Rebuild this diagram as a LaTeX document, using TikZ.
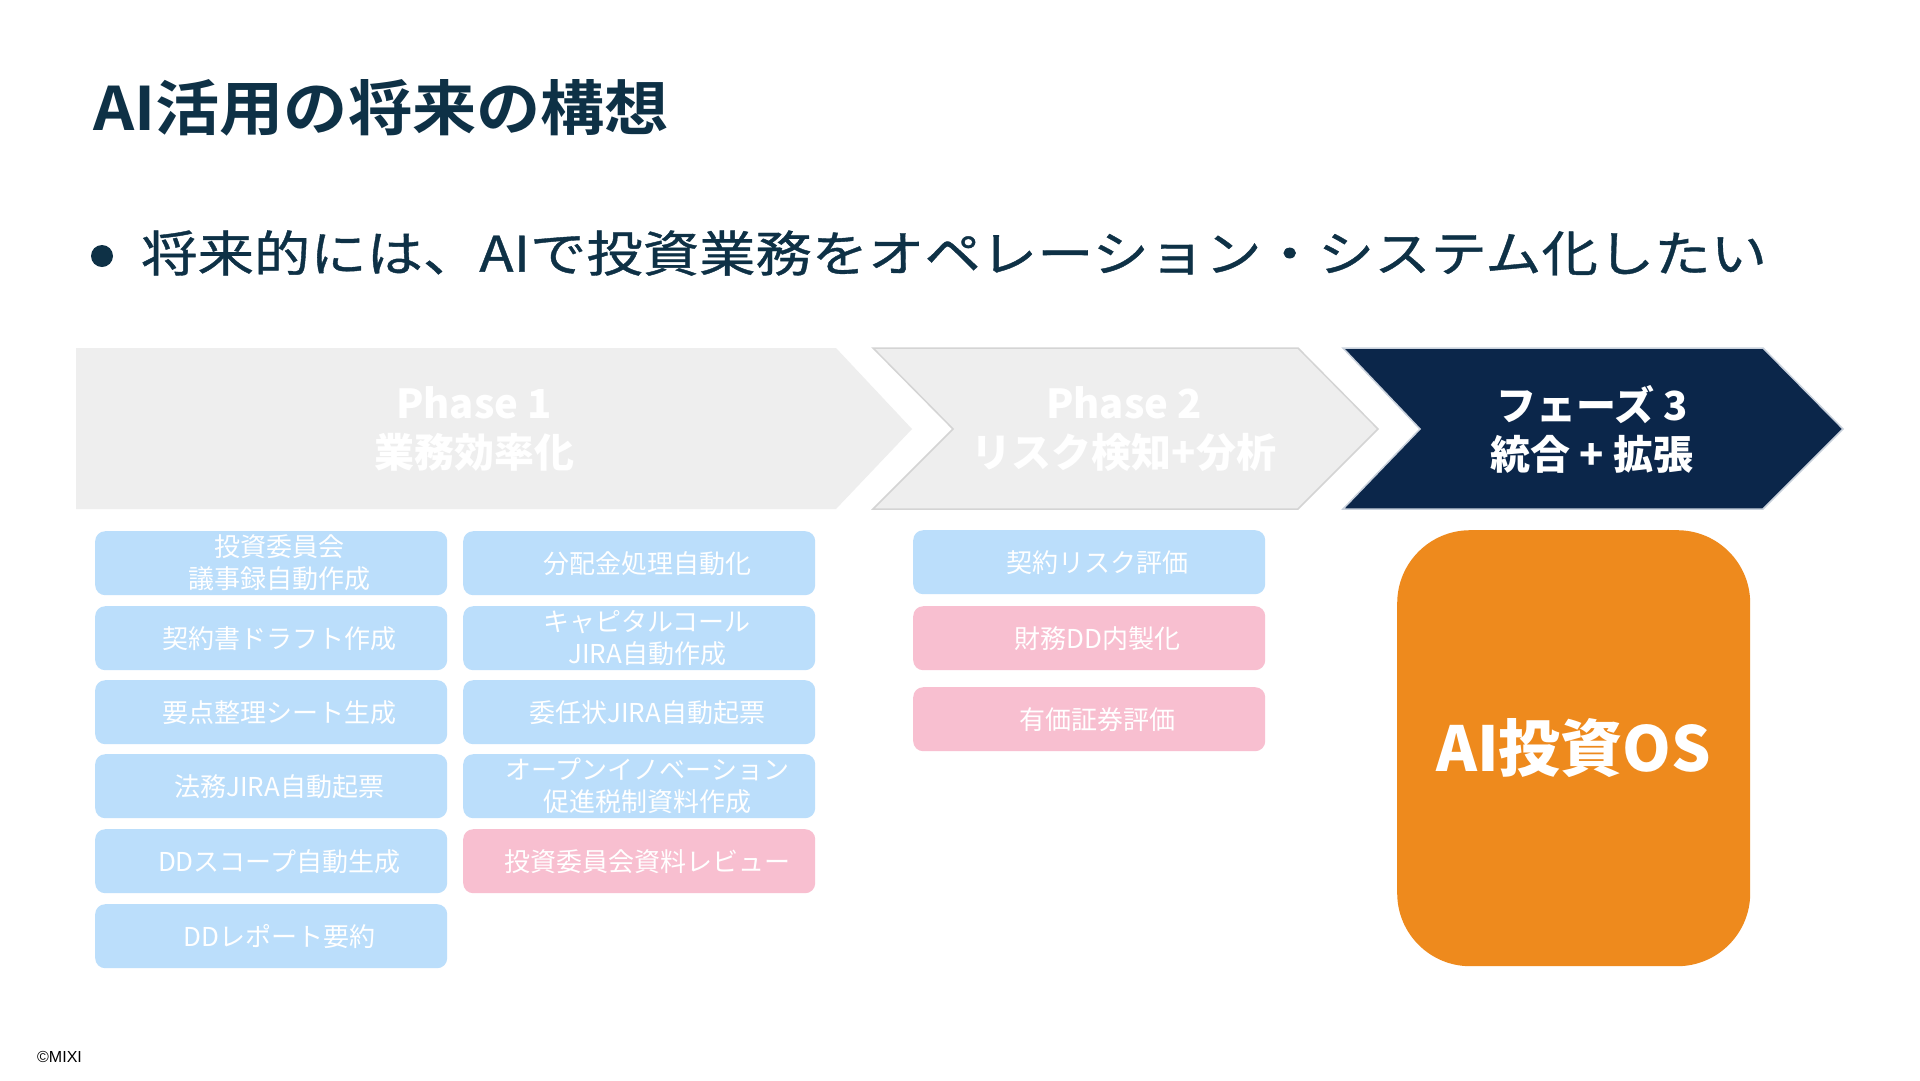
\documentclass[tikz,border=0pt]{standalone}
\usepackage{fontspec}
\setmainfont{Noto Sans CJK JP}
\newfontfamily\arialish{Liberation Sans}
\newfontfamily\widefont[FakeStretch=1.15, FakeBold=0.8]{Noto Sans CJK JP}
\newfontfamily\widetitle[FakeStretch=1.07]{Noto Sans CJK JP Bold}
\definecolor{chev}{HTML}{EEEEEE}
\definecolor{chevline}{HTML}{D4D4D4}
\definecolor{navy}{HTML}{0B264A}
\definecolor{navyline}{HTML}{C9D1DC}
\definecolor{boxblue}{HTML}{BBDEFB}
\definecolor{boxpink}{HTML}{F8BFD0}
\definecolor{osorange}{HTML}{EE8A1D}
\definecolor{titlecol}{HTML}{0E3146}
\newcommand{\shl}{\hspace*{16pt}}
\begin{document}
\begin{tikzpicture}[x=1pt,y=-1pt,
  box/.style={rounded corners=10pt, minimum width=352pt, minimum height=64pt, anchor=north west, align=center, text=white, font=\fontsize{26}{32}\selectfont, inner sep=0pt},
  bluebox/.style={box, fill=boxblue},
  pinkbox/.style={box, fill=boxpink},
  phasetext/.style={align=center, text=white, font=\bfseries\fontsize{40}{49}\selectfont}]
\useasboundingbox (0,0) rectangle (1920,1080);
\fill[white] (0,0) rectangle (1920,1080);

% title and bullet
\node[anchor=west, text=titlecol, font=\widetitle\fontsize{60}{70}\selectfont, inner sep=0pt] (title) at (93,108) {AI活用の将来の構想};
\fill[titlecol] (102,256) circle (11);
\node[anchor=west, text=titlecol, font=\widefont\fontsize{49}{58}\selectfont, inner sep=0pt] (bullet) at (141,253) {将来的には、AIで投資業務をオペレーション・システム化したい};

% chevrons
\fill[chev] (76,348) -- (836,348) -- (912,429) -- (836,509) -- (76,509) -- cycle;
\filldraw[fill=chev, draw=chevline, line width=1.5pt] (873,348) -- (1298,348) -- (1378,429) -- (1298,509) -- (873,509) -- (953,429) -- cycle;
\filldraw[fill=navy, draw=navyline, line width=1.5pt] (1343,348) -- (1763,348) -- (1843,429) -- (1763,509) -- (1343,509) -- (1420,429) -- cycle;
\node[phasetext] (p1) at (474,429) {Phase 1\\業務効率化};
\node[phasetext] (p2) at (1124,429) {Phase 2\\リスク検知+分析};
\node[phasetext] (p3) at (1592,429) {フェーズ 3\\統合 + 拡張};

% column 1
\node[bluebox] (a1) at (95,531) {\shl 投資委員会\\\shl 議事録自動作成};
\node[bluebox] (a2) at (95,606) {\shl 契約書ドラフト作成};
\node[bluebox] (a3) at (95,680) {\shl 要点整理シート生成};
\node[bluebox] (a4) at (95,754) {\shl 法務JIRA自動起票};
\node[bluebox] (a5) at (95,829) {\shl DDスコープ自動生成};
\node[bluebox] (a6) at (95,904) {\shl DDレポート要約};

% column 2
\node[bluebox] (b1) at (463,531) {\shl 分配金処理自動化};
\node[bluebox] (b2) at (463,606) {\shl キャピタルコール\\\shl JIRA自動作成};
\node[bluebox] (b3) at (463,680) {\shl 委任状JIRA自動起票};
\node[bluebox] (b4) at (463,754) {\shl オープンイノベーション\\\shl 促進税制資料作成};
\node[pinkbox] (b5) at (463,829) {\shl 投資委員会資料レビュー};

% column 3
\node[bluebox] (c1) at (913,530) {\shl 契約リスク評価};
\node[pinkbox] (c2) at (913,606) {\shl 財務DD内製化};
\node[pinkbox] (c3) at (913,687) {\shl 有価証券評価};

% AI OS
\node[anchor=north west, fill=osorange, rounded corners=73pt, minimum width=353pt, minimum height=436pt, inner sep=0pt, text=white, font=\bfseries\fontsize{62}{70}\selectfont] (os) at (1397,530) {AI投資OS};

% copyright
\node[anchor=west, inner sep=0pt, font=\arialish\fontsize{16}{18}\selectfont] (copy) at (37,1057) {©MIXI};
\end{tikzpicture}
\end{document}
